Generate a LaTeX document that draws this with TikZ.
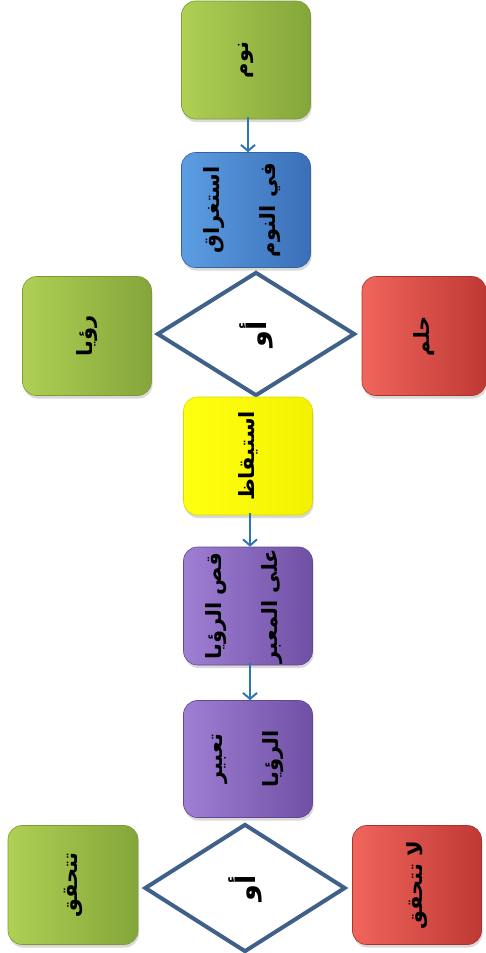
\documentclass[tikz,border=0pt]{standalone}
\usepackage{fontspec}
\usetikzlibrary{shapes.geometric,arrows.meta,shadows}
\TeXXeTstate=1
\newfontfamily\arabicfont[Script=Arabic]{DejaVu Sans}
\definecolor{gL}{HTML}{AFD053}
\definecolor{gR}{HTML}{84A53A}
\definecolor{gD}{HTML}{7C9A38}
\definecolor{bL}{HTML}{5C9DE2}
\definecolor{bR}{HTML}{3A6FB8}
\definecolor{bD}{HTML}{34639F}
\definecolor{rL}{HTML}{F0655C}
\definecolor{rR}{HTML}{BF3934}
\definecolor{rD}{HTML}{A8322E}
\definecolor{yL}{HTML}{FFFF10}
\definecolor{yR}{HTML}{F2F200}
\definecolor{yD}{HTML}{D8D800}
\definecolor{pL}{HTML}{9F7FD3}
\definecolor{pR}{HTML}{7050A5}
\definecolor{pD}{HTML}{62468F}
\definecolor{diaC}{HTML}{3F6189}
\definecolor{arrC}{HTML}{2E75B6}
\tikzset{
  box/.style={rectangle, rounded corners=14pt, minimum width=129pt, minimum height=118pt, inner sep=0pt, line width=0.6pt,
    drop shadow={opacity=0.3, shadow xshift=1pt, shadow yshift=-3pt}},
  greenbox/.style={box, left color=gL, right color=gR, draw=gD},
  bluebox/.style={box, left color=bL, right color=bR, draw=bD},
  redbox/.style={box, left color=rL, right color=rR, draw=rD},
  yellowbox/.style={box, left color=yL, right color=yR, draw=yD},
  purplebox/.style={box, left color=pL, right color=pR, draw=pD},
  orshape/.style={diamond, draw=diaC, line width=4pt, fill=white, inner sep=0pt},
  lbl/.style={rotate=90, align=center, inner sep=0pt, text=black, font=\arabicfont\bfseries\fontsize{21}{24}\selectfont},
  orlbl/.style={lbl, font=\arabicfont\bfseries\fontsize{27}{30}\selectfont},
  flow/.style={draw=arrC, line width=2.2pt, -{Straight Barb[length=6pt,width=14pt,line width=2pt]}}
}
\begin{document}
\begin{tikzpicture}[x=1pt,y=-1pt]
\useasboundingbox (0,0) rectangle (485,953);
% boxes
\node[greenbox] (nawm) at (246,60) {};
\node[lbl] (nawmT) at (nawm) {\beginR نوم\endR};
\node[bluebox, minimum height=115pt] (istighraq) at (246,210) {};
\node[lbl] (istighraqT) at ([xshift=-4pt]istighraq) {\beginR استغراق\endR\\[32pt]\beginR في النوم\endR};
\node[greenbox, minimum height=119pt] (ruya) at (87,336) {};
\node[lbl] (ruyaT) at (ruya) {\beginR رؤيا\endR};
\node[redbox, minimum width=124pt, minimum height=119pt] (hulm) at (424,336) {};
\node[lbl] (hulmT) at (hulm) {\beginR حلم\endR};
\node[orshape, minimum width=198pt, minimum height=124pt] (or1) at (256,334) {};
\node[orlbl] (or1T) at (or1) {\beginR أو\endR};
\node[yellowbox] (yaqza) at (248,456) {};
\node[lbl] (yaqzaT) at (yaqza) {\beginR استيقاظ\endR};
\node[purplebox] (qass) at (248,606) {};
\node[lbl] (qassT) at ([xshift=-4pt]qass) {\beginR قص الرؤيا\endR\\[32pt]\beginR على المعبر\endR};
\node[purplebox, minimum height=117pt] (tabir) at (248,759) {};
\node[lbl] (tabirT) at (tabir) {\beginR تعبير\endR\\[32pt]\beginR الرؤيا\endR};
\node[greenbox, minimum width=130pt, minimum height=119pt] (tahaqquq) at (73,885) {};
\node[lbl] (tahaqquqT) at (tahaqquq) {\beginR تتحقق\endR};
\node[redbox, minimum height=119pt] (latahaqquq) at (417,885) {};
\node[lbl] (latahaqquqT) at (latahaqquq) {\beginR لا تتحقق\endR};
\node[orshape, minimum width=201pt, minimum height=128pt] (or2) at (245,888) {};
\node[orlbl] (or2T) at (or2) {\beginR أو\endR};
% connectors
\draw[flow] ([yshift=2pt,xshift=2pt]nawm.south) -- ([xshift=2pt]istighraq.north);
\draw[flow] ([yshift=2pt,xshift=2pt]yaqza.south) -- ([xshift=2pt]qass.north);
\draw[flow] ([yshift=2pt,xshift=2pt]qass.south) -- ([xshift=2pt]tabir.north);
\end{tikzpicture}
\end{document}
